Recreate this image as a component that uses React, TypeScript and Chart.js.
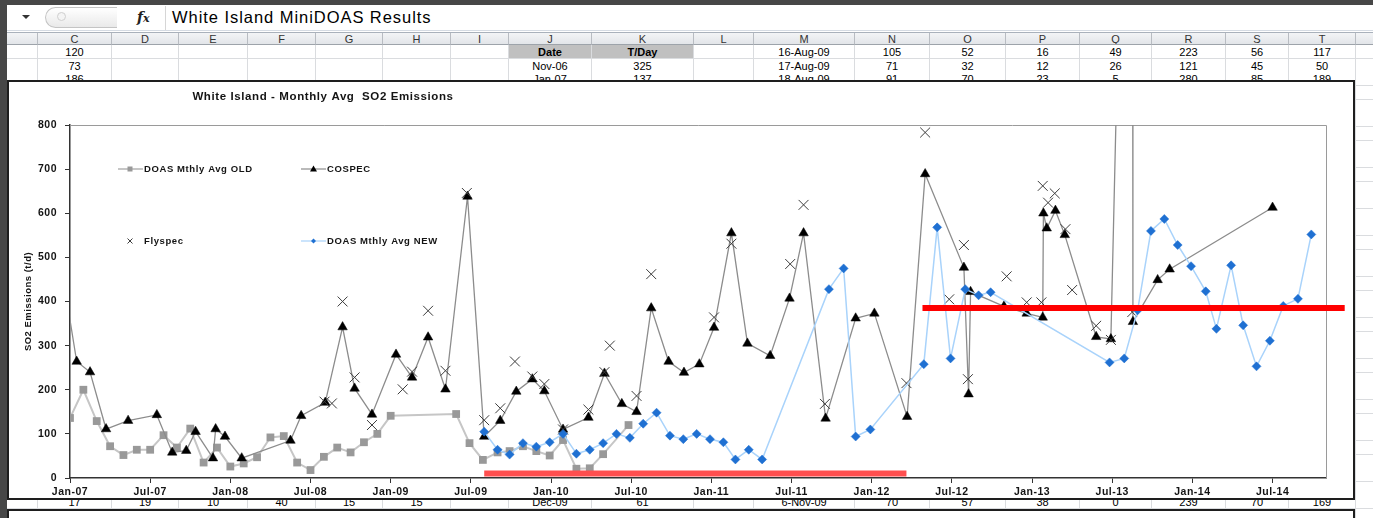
import React, { useEffect, useRef } from 'react';
import { Chart, registerables } from 'chart.js';

Chart.register(...registerables);

// ---------------- data ----------------
const xTickMonths = [0, 6, 12, 18, 24, 30, 36, 42, 48, 54, 60, 66, 72, 78, 84, 90];
const xTickLabels = ['Jan-07', 'Jul-07', 'Jan-08', 'Jul-08', 'Jan-09', 'Jul-09', 'Jan-10', 'Jul-10', 'Jan-11', 'Jul-11', 'Jan-12', 'Jul-12', 'Jan-13', 'Jul-13', 'Jan-14', 'Jul-14'];

// x = months since Jan-07
const oldMonths = [0, 1, 2, 3, 4, 5, 6, 7, 8, 9, 10, 11, 12, 13, 14, 15, 16, 17, 18, 19, 20, 21, 22, 23, 24, 28.9, 29.9, 30.9, 32, 32.9, 33.9, 34.9, 35.9, 36.9, 37.9, 38.9, 39.9, 41.8];
const oldValues = [136, 200, 129, 72, 52, 64, 64, 97, 69, 112, 35, 69, 26, 33, 47, 92, 95, 35, 18, 48, 69, 58, 81, 100, 141, 145, 79, 41, 58, 61, 72, 61, 51, 86, 21, 22, 54, 120];

const cospecMonths = [-0.5, 0.5, 1.5, 2.7, 4.35, 6.5, 7.65, 8.7, 9.4, 10.7, 10.9, 11.6, 12.85, 16.5, 17.3, 19.1, 20.4, 21.3, 22.6, 24.4, 25.6, 26.8, 28.1, 29.75, 31, 32.2, 33.4, 34.6, 35.5, 36.9, 38.8, 40, 41.3, 42.4, 43.5, 44.8, 45.95, 47.1, 48.2, 49.5, 50.7, 52.4, 53.85, 54.9, 56.55, 58.8, 60.2, 62.65, 64, 66.9, 67.25, 67.4, 69.9, 71.6, 72.8, 72.85, 73.1, 73.75, 74.45, 76.8, 77.9, 79.5, 79.55, 81.4, 82.3, 90];
const cospecValues = [452, 264, 240, 111, 130, 143, 58, 62, 105, 45, 111, 94, 45, 85, 141, 171, 342, 203, 144, 280, 228, 319, 201, 638, 94, 130, 196, 224, 197, 110, 137, 237, 168, 150, 385, 264, 239, 258, 341, 555, 305, 277, 407, 555, 135, 362, 373, 139, 689, 477, 190, 422, 389, 373, 364, 600, 566, 606, 551, 320, 315, 2400, 354, 449, 473, 613];

const flyspecMonths = [19.05, 19.6, 20.4, 21.3, 22.6, 24.9, 25.6, 26.8, 28.1, 29.7, 31, 32.2, 33.3, 34.6, 35.5, 36.9, 38.8, 40, 40.4, 42.4, 43.5, 48.2, 49.5, 53.9, 54.9, 56.5, 62.6, 64, 65.8, 66.9, 67.2, 70.1, 71.6, 72.7, 72.8, 73.2, 73.7, 74.5, 75, 76.8, 77.9, 79.5];
const flyspecValues = [173, 169, 400, 228, 120, 201, 241, 379, 243, 646, 131, 158, 264, 230, 213, 110, 155, 240, 300, 186, 462, 364, 531, 485, 619, 168, 215, 783, 405, 528, 224, 457, 398, 398, 662, 624, 645, 564, 426, 345, 313, 376];

const newMonths = [31, 32, 32.9, 33.9, 34.9, 35.9, 36.9, 37.9, 38.9, 39.9, 40.9, 41.9, 42.9, 43.9, 44.9, 45.9, 46.9, 47.9, 48.9, 49.8, 50.8, 51.8, 56.8, 57.9, 58.8, 59.9, 63.9, 64.9, 65.9, 67, 68, 68.9, 77.8, 78.9, 79.9, 80.9, 81.9, 82.9, 83.9, 85, 85.8, 86.9, 87.8, 88.8, 89.8, 90.8, 91.9, 92.9];
const newValues = [105, 64, 53, 79, 71, 81, 100, 55, 64, 79, 100, 91, 123, 148, 96, 88, 100, 88, 81, 42, 64, 42, 428, 475, 94, 110, 258, 568, 271, 428, 414, 421, 262, 271, 380, 560, 587, 528, 480, 423, 338, 482, 346, 253, 311, 390, 406, 552];

const lowBarMonths = [31, 62.6];
const lowBarValues = [10, 10];
const highBarMonths = [63.8, 95.4];
const highBarValues = [385, 385];

// spreadsheet cell text
const row1: Record<string, string> = { C: '120', J: 'Date', K: 'T/Day', M: '16-Aug-09', N: '105', O: '52', P: '16', Q: '49', R: '223', S: '56', T: '117' };
const row2: Record<string, string> = { C: '73', J: 'Nov-06', K: '325', M: '17-Aug-09', N: '71', O: '32', P: '12', Q: '26', R: '121', S: '45', T: '50' };
const row3: Record<string, string> = { C: '186', J: 'Jan-07', K: '137', M: '18-Aug-09', N: '91', O: '70', P: '23', Q: '5', R: '280', S: '85', T: '189' };
const rowBottom: Record<string, string> = { C: '17', D: '19', E: '10', F: '40', G: '15', H: '15', J: 'Dec-09', K: '61', M: '6-Nov-09', N: '70', O: '57', P: '38', Q: '0', R: '239', S: '70', T: '169' };

// ---------------- layout ----------------
const FONT = "'Liberation Sans', Arial, sans-serif";
const colEdges = [7, 38, 112, 179, 248, 316, 383, 451, 509, 592, 694, 754, 855, 930, 1006, 1080, 1152, 1226, 1289, 1356, 1420];
const colNames = ['B', 'C', 'D', 'E', 'F', 'G', 'H', 'I', 'J', 'K', 'L', 'M', 'N', 'O', 'P', 'Q', 'R', 'S', 'T', 'U'];
const ROW_TOP = 45;
const ROW_H = 13.65;

const pts = (xs: number[], ys: number[]) => xs.map((x, i) => ({ x, y: ys[i] }));

const C_OLD_LINE = '#c6c6c6';
const C_OLD_PT = '#999999';
const C_COSPEC_LINE = '#8c8c8c';
const C_FLY = '#3c3c3c';
const C_NEW_LINE = '#a9d3fb';
const C_NEW_PT = '#1f70d2';
const TXT = '#141414';

const decorPlugin = {
  id: 'decor',
  beforeDraw(chart: any) {
    (chart.ctx as any).letterSpacing = '0.5px';
  },
  beforeDatasetsDraw(chart: any) {
    const { ctx, chartArea } = chart;
    const { left, top, right, bottom } = chartArea;
    ctx.save();
    ctx.strokeStyle = '#9a9a9a';
    ctx.lineWidth = 1;
    ctx.beginPath();
    ctx.moveTo(left, Math.round(top) + 0.5);
    ctx.lineTo(Math.round(right) + 0.5, Math.round(top) + 0.5);
    ctx.lineTo(Math.round(right) + 0.5, bottom);
    ctx.stroke();
    ctx.restore();
  },
  afterDraw(chart: any) {
    const { ctx } = chart;
    ctx.save();
    (ctx as any).letterSpacing = '0.6px';
    // title
    ctx.fillStyle = TXT;
    ctx.font = `bold 11.5px ${FONT}`;
    ctx.textAlign = 'center';
    ctx.textBaseline = 'middle';
    ctx.fillText('White Island - Monthly Avg  SO2 Emissions', 314, 15);

    // legend
    ctx.font = `bold 9.5px ${FONT}`;
    ctx.textAlign = 'left';
    const r1 = 87;
    const r2 = 159;
    // OLD
    ctx.strokeStyle = C_OLD_LINE;
    ctx.lineWidth = 2;
    ctx.beginPath(); ctx.moveTo(109, r1); ctx.lineTo(134, r1); ctx.stroke();
    ctx.fillStyle = C_OLD_PT;
    ctx.fillRect(118.5, r1 - 2.5, 5, 5);
    ctx.fillStyle = TXT;
    ctx.fillText('DOAS Mthly Avg OLD', 135, r1);
    // COSPEC
    ctx.strokeStyle = C_COSPEC_LINE;
    ctx.lineWidth = 1.2;
    ctx.beginPath(); ctx.moveTo(292, r1); ctx.lineTo(317, r1); ctx.stroke();
    ctx.fillStyle = '#000';
    ctx.beginPath(); ctx.moveTo(304.5, r1 - 3.5); ctx.lineTo(308, r1 + 2.5); ctx.lineTo(301, r1 + 2.5); ctx.closePath(); ctx.fill();
    ctx.fillStyle = TXT;
    ctx.fillText('COSPEC', 318, r1);
    // Flyspec
    ctx.strokeStyle = C_FLY;
    ctx.lineWidth = 1;
    ctx.beginPath();
    ctx.moveTo(118.5, r2 - 2.5); ctx.lineTo(123.5, r2 + 2.5);
    ctx.moveTo(123.5, r2 - 2.5); ctx.lineTo(118.5, r2 + 2.5);
    ctx.stroke();
    ctx.fillStyle = TXT;
    ctx.fillText('Flyspec', 135, r2);
    // NEW
    ctx.strokeStyle = C_NEW_LINE;
    ctx.lineWidth = 1.2;
    ctx.beginPath(); ctx.moveTo(292, r2); ctx.lineTo(317, r2); ctx.stroke();
    ctx.fillStyle = C_NEW_PT;
    ctx.beginPath(); ctx.moveTo(304.5, r2 - 2.5); ctx.lineTo(307, r2); ctx.lineTo(304.5, r2 + 2.5); ctx.lineTo(302, r2); ctx.closePath(); ctx.fill();
    ctx.fillStyle = TXT;
    ctx.fillText('DOAS Mthly Avg NEW', 318, r2);
    ctx.restore();
  },
};

function SO2Chart() {
  const ref = useRef<HTMLCanvasElement | null>(null);
  useEffect(() => {
    if (!ref.current) return;
    const tickFont = { family: FONT, size: 10.5, weight: 'bold' };
    const chart = new Chart(ref.current, {
      type: 'line',
      data: {
        datasets: [
          { label: 'lowBar', data: pts(lowBarMonths, lowBarValues), borderColor: '#ff4f4f', borderWidth: 6, pointRadius: 0, order: 0 },
          { label: 'highBar', data: pts(highBarMonths, highBarValues), borderColor: '#ff0000', borderWidth: 6, pointRadius: 0, order: 0, clip: false },
          {
            label: 'DOAS Mthly Avg NEW', data: pts(newMonths, newValues), borderColor: C_NEW_LINE, borderWidth: 1.5,
            pointStyle: 'rectRot', pointRadius: 4.5, pointBackgroundColor: C_NEW_PT, pointBorderColor: C_NEW_PT, pointBorderWidth: 0.5, order: 1,
          },
          {
            label: 'Flyspec', data: pts(flyspecMonths, flyspecValues), showLine: false, pointStyle: 'crossRot', pointRadius: 7,
            pointBorderColor: C_FLY, pointBackgroundColor: C_FLY, pointBorderWidth: 1, order: 2,
          },
          {
            label: 'COSPEC', data: pts(cospecMonths, cospecValues), borderColor: C_COSPEC_LINE, borderWidth: 1.3,
            pointStyle: 'triangle', pointRadius: 5.5, pointBackgroundColor: '#000', pointBorderColor: '#000', pointBorderWidth: 0.5, order: 3,
          },
          {
            label: 'DOAS Mthly Avg OLD', data: pts(oldMonths, oldValues), borderColor: C_OLD_LINE, borderWidth: 2,
            pointStyle: 'rect', pointRadius: 5.5, pointBackgroundColor: C_OLD_PT, pointBorderColor: C_OLD_PT, pointBorderWidth: 0, order: 4,
          },
        ],
      },
      options: {
        animation: false,
        responsive: false,
        events: [],
        layout: { padding: { top: 43, right: 27, bottom: 0, left: 0 } },
        plugins: { legend: { display: false }, tooltip: { enabled: false }, title: { display: false } },
        scales: {
          x: {
            type: 'linear',
            min: 0,
            max: 94,
            afterBuildTicks: (s: any) => { s.ticks = xTickMonths.map((v) => ({ value: v })); },
            afterFit: (s: any) => { s.height = 20; },
            ticks: {
              callback: (_v: any, i: number) => xTickLabels[i] ?? '',
              autoSkip: false, maxRotation: 0, minRotation: 0,
              font: tickFont, color: TXT, padding: 3,
            },
            grid: { drawOnChartArea: false, drawTicks: true, tickLength: 5, color: '#333', tickColor: '#333' },
            border: { display: true, color: '#333', width: 1.5 },
          },
          y: {
            min: 0,
            max: 800,
            afterFit: (s: any) => { s.width = 61; },
            ticks: { stepSize: 100, font: tickFont, color: TXT, padding: 8 },
            grid: { drawOnChartArea: false, drawTicks: true, tickLength: 5, color: '#333', tickColor: '#333' },
            border: { display: true, color: '#333', width: 1.5 },
            title: { display: true, text: 'SO2 Emissions (t/d)', font: { family: FONT, size: 9.5, weight: 'bold' }, color: TXT, padding: { top: 14, bottom: 0 } },
          },
        },
      },
      plugins: [decorPlugin],
    } as any);
    return () => chart.destroy();
  }, []);
  return <canvas ref={ref} width={1344} height={416} style={{ width: 1344, height: 416, display: 'block' }} />;
}

function Cell(props: { col: number; top: number; h: number; text?: string; bold?: boolean; bg?: string; header?: boolean }) {
  const { col, top, h, text, bold, bg, header } = props;
  const left = colEdges[col];
  const w = colEdges[col + 1] - left;
  return (
    <div
      style={{
        position: 'absolute', left, top, width: w, height: h, boxSizing: 'border-box',
        borderRight: header ? '1px solid #b8bcc2' : '1px solid #dadcdf',
        borderBottom: header ? '1px solid #9da3aa' : '1px solid #dadcdf',
        background: bg || (header ? 'linear-gradient(#f3f4f6, #e2e5e9)' : '#fff'),
        font: `${bold ? 'bold ' : ''}11px ${FONT}`,
        color: header ? '#333' : '#000',
        textAlign: 'center', lineHeight: `${h}px`, whiteSpace: 'nowrap', overflow: 'hidden',
      }}
    >
      {text}
    </div>
  );
}

export default function App() {
  const rows: React.ReactNode[] = [];
  for (let k = 0; k < 36; k++) {
    const top = ROW_TOP + k * ROW_H;
    const data = k === 0 ? row1 : k === 1 ? row2 : k === 2 ? row3 : k === 33 ? rowBottom : null;
    for (let c = 0; c < colNames.length; c++) {
      const name = colNames[c];
      const text = data ? data[name] : undefined;
      const isHead = k === 0 && (name === 'J' || name === 'K');
      rows.push(<Cell key={`r${k}c${c}`} col={c} top={top} h={ROW_H + 0.35} text={text} bold={isHead} bg={isHead ? '#c0c0c0' : undefined} />);
    }
  }
  return (
    <div style={{ position: 'fixed', left: 0, top: 0, width: 1373, height: 518, overflow: 'hidden', background: '#fff' }}>
      {/* formula bar */}
      <div style={{ position: 'absolute', left: 0, top: 0, width: 1373, height: 5, background: '#474747' }} />
      <div style={{ position: 'absolute', left: 22, top: 15, width: 0, height: 0, borderLeft: '4px solid transparent', borderRight: '4px solid transparent', borderTop: '4px solid #333' }} />
      <div style={{ position: 'absolute', left: 45, top: 7, width: 72, height: 21, boxSizing: 'border-box', border: '1px solid #c4c4c4', borderRight: 'none', borderRadius: '11px 0 0 11px', background: 'linear-gradient(#ffffff, #e9e9e9)' }} />
      <div style={{ position: 'absolute', left: 57, top: 12, width: 9, height: 9, boxSizing: 'border-box', borderRadius: '50%', border: '1px solid #cfcfcf', background: '#f4f4f4' }} />
      <div style={{ position: 'absolute', left: 137, top: 8, font: "italic bold 14px 'DejaVu Serif', serif", color: '#222', lineHeight: '18px' }}>f<span style={{ fontSize: 11 }}>x</span></div>
      <div style={{ position: 'absolute', left: 165, top: 6, width: 1208, height: 24, borderLeft: '1px solid #d6d6d6' }} />
      <div style={{ position: 'absolute', left: 172, top: 7, font: `16.5px ${FONT}`, letterSpacing: '0.95px', color: '#000', lineHeight: '20px', whiteSpace: 'nowrap' }}>White Island MiniDOAS Results</div>
      <div style={{ position: 'absolute', left: 0, top: 30, width: 1373, height: 1, background: '#d5dbe3' }} />
      <div style={{ position: 'absolute', left: 0, top: 32, width: 1373, height: 1, background: '#a9b1bb' }} />
      {/* column headers */}
      {colNames.map((n, c) => (
        <Cell key={`h${c}`} col={c} top={33} h={12} text={n === 'B' || n === 'U' ? '' : n} header />
      ))}
      {rows}
      {/* chart box */}
      <div style={{ position: 'absolute', left: 7, top: 80, width: 1348, height: 420, boxSizing: 'border-box', border: '2px solid #1e1e1e', background: '#fff' }}>
        <SO2Chart />
      </div>
      {/* next chart box below */}
      <div style={{ position: 'absolute', left: 7, top: 509, width: 1348, height: 40, boxSizing: 'border-box', border: '2px solid #1e1e1e', background: '#fff' }} />
      <div style={{ position: 'absolute', left: 0, top: 0, width: 7, height: 518, background: '#474747' }} />
    </div>
  );
}
